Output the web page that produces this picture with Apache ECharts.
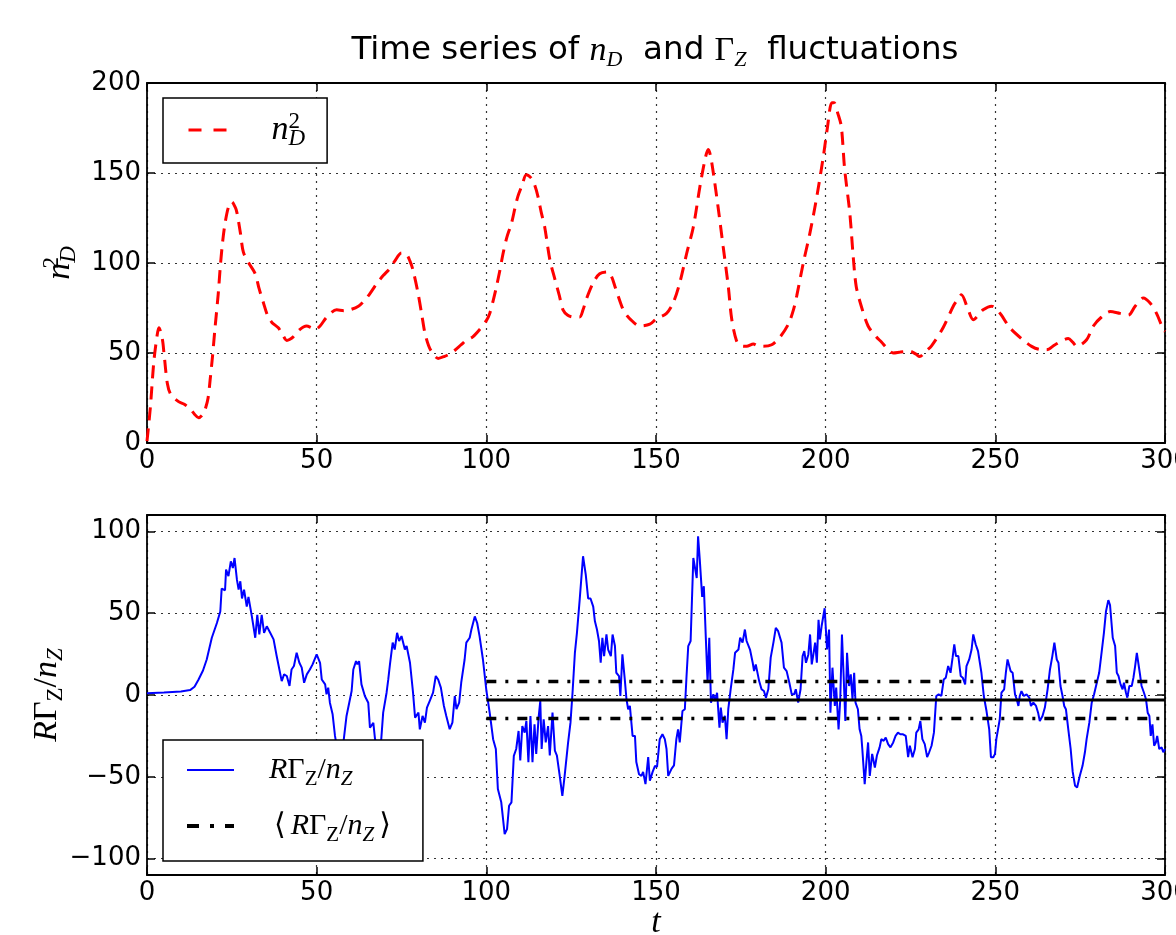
<!DOCTYPE html>
<html><head><meta charset="utf-8">
<script src="https://cdn.jsdelivr.net/npm/echarts@6.0.0/dist/echarts.min.js"></script>
<style>html,body{margin:0;padding:0;background:#fff}#c{width:1176px;height:935px}</style>
</head><body><div id="c"></div>
<script>
// ---- data ----
const xTicks = [0, 50, 100, 150, 200, 250, 300];
const nTicks = [0, 50, 100, 150, 200];
const gTicks = [-100, -50, 0, 50, 100];

// n_D^2 time series [t, value]
const nD2 = [[0,1],[1,20],[2,45],[3,60],[3.5,64],[4.5,58],[5,50],[6,33],[7,27],[9.3,23],[11,21.5],[12.7,19],[14,16],[15.2,14],[16.5,16],[17.2,19],[18,25],[18.6,35],[19.3,48],[20,63],[21,83],[21.6,98],[22.3,112],[23,122],[24,131],[25,134],[26,131],[26.5,128],[27.5,117],[28.4,106],[30,100],[31.9,94],[33,86],[34.3,78],[35.5,71],[36.8,67],[38.7,64],[40,60],[41.2,57],[42,57.5],[43.1,59],[45,63],[47,65],[48.5,64],[49.5,63],[51,65],[53,70],[55.9,74],[58,73.5],[59.8,74],[62.3,76],[64,79],[65.7,83],[67.5,88],[69.6,93],[71.6,97],[73,101],[75,105.5],[76.5,104.6],[77.5,101],[78.4,96],[79.9,83],[81,71],[81.9,61],[83,54],[83.8,51],[85.8,47],[87.5,48],[89.7,50],[92.6,54.6],[94,57],[96,59],[98,63],[100,68],[101,72],[102,79],[103,87],[104,96],[104.9,105],[106,114],[107.4,122],[108.5,131],[109.3,137],[110.5,143],[111.8,149],[113.3,147],[114.3,143],[115.2,137],[116.2,128],[117.2,120],[118.7,102],[120.2,91],[121.5,82],[122.6,74],[124,71],[125.6,70],[127.5,70],[128.5,74],[129.5,80],[131.5,89],[133.4,94],[135.9,95],[137,92],[137.9,87],[139.9,76],[141,72],[142.3,69],[145.2,65],[148.2,66],[150.1,69],[153.1,72],[155.1,78],[157,89],[159,105],[161,120],[162.9,142],[164.5,158],[165.4,163],[166,160],[166.9,150],[168.3,131],[169.8,109],[171.3,87],[172.3,69],[173.7,57],[175,54],[176.7,53.7],[178.7,55],[180,54],[181.6,53.7],[184.1,54.6],[186.6,59],[189,66],[190.5,74],[191.5,82],[193.4,100],[195.4,117],[197.4,137],[199.3,159],[200.5,175],[201.8,189],[202.5,189],[203.6,183],[204.6,176],[205.6,152],[207.1,128],[208.1,104],[209,87],[210.5,76],[212.5,65],[214.9,59],[216.5,56],[217.9,53],[219.9,50],[222,50.5],[224.8,51],[226.5,49.5],[227.7,48],[229.5,51],[231.2,54],[234.6,64],[237.6,76],[239,80],[240,82.4],[242,74],[243.5,68.5],[245,71],[246.4,74],[248.9,76],[250.5,74],[251.8,71],[254.3,64],[257.7,58],[260.7,53.7],[263,52],[265.1,51.8],[267.6,54.6],[271.5,58],[272.8,56],[274,53.7],[276.9,57.4],[278.9,65],[281.3,70],[283.8,73],[286.7,72],[289.2,71],[291.2,76],[293.6,80.6],[295.6,77.8],[297.5,72],[299.5,63],[300,62]];

// R Gamma_Z / n_Z time series [t, value]
const gamma = [[0,1],[5,1.5],[10,2.2],[12.7,3],[14,5],[15.2,9.5],[16.5,15],[17.6,21.7],[19.1,35],[20.6,44],[21.6,51],[22,65],[23,64],[23.3,76.6],[24,72.6],[24.7,81.7],[25.3,77.6],[25.8,83.7],[26.5,70.5],[27,64.4],[27.5,69.5],[28,59],[28.6,64.4],[29.4,54],[29.9,60],[30.9,48],[31.9,35],[32.5,49],[33.1,37],[33.8,49],[34.5,38],[35.3,42],[36.3,38],[37.3,34],[38.2,24],[38.7,25],[39.7,8.5],[40.4,12.6],[41.2,11.6],[42,5.5],[42.6,15.6],[43.3,17.7],[44.1,25.8],[44.9,19.7],[45.6,16.7],[46.3,7.5],[47.1,12.6],[48,15.6],[48.8,18.7],[50,24.8],[51,19.7],[51.5,9.5],[52.5,6.5],[52.9,0.4],[53.4,4.5],[53.9,-4.7],[54.7,-11.8],[55.4,-25],[56.3,-36],[57.2,-33],[58,-27],[58.8,-12.8],[59.6,-4.7],[60.3,2.4],[60.8,15.6],[61.6,20.7],[62,18.7],[62.5,20.7],[63.2,6.5],[64.2,-0.6],[65.2,-4.7],[65.7,-20],[66.7,-17],[67.2,-27],[68.1,-32],[69,-28],[69.6,-10.8],[70.6,1.4],[71.1,9.5],[71.6,18.7],[72.4,32],[73,27.8],[73.7,38],[74.3,33],[75,36],[76,27.8],[76.5,30],[77.5,19.7],[78.4,1.4],[79,-13.8],[80,-10.8],[80.4,-21],[81.2,-12.8],[81.9,-16.9],[82.5,-7.7],[83.3,-3.7],[84.3,1.4],[85.1,11.6],[85.8,9.5],[86.6,4.5],[87.5,-6.7],[88.2,-12.8],[89.2,-20.9],[90,-16.9],[90.7,-0.6],[91.2,-8.7],[92,-4.7],[92.6,7.5],[93.6,21.7],[94.1,32],[95.1,35],[95.6,40],[96.6,48],[97.3,44],[98,36],[99,21.7],[100,3],[101,-11],[102,-27],[102.8,-33],[103.4,-57.5],[104.4,-65.6],[105.4,-85],[106.1,-82],[106.7,-67.7],[107.4,-65.6],[108.1,-37.2],[108.8,-33],[109.5,-22],[110,-40],[110.6,-19],[111.3,-23],[111.8,-15.9],[112.4,-41],[113,-12.8],[113.6,-41],[114.2,-17.9],[114.7,-36],[115.4,-13.8],[115.9,-3.7],[116.3,-33],[116.9,-14.8],[117.5,-29],[118.2,-19],[118.7,-37],[119.5,-10.8],[120.2,-34],[120.8,-37],[121.6,-49],[122.4,-61.6],[123.1,-49],[124.1,-29],[124.8,-16.9],[125.4,1.4],[126.1,25.8],[126.7,38],[127.5,58],[128.5,84.8],[129.3,73.6],[130,59],[130.7,59],[131.5,54],[132,45],[132.6,40],[133.2,33],[133.7,19.7],[134.2,35],[134.7,23.8],[135.4,37],[135.9,27.8],[136.7,23.8],[137.2,37],[137.9,29.9],[138.3,13.6],[139.1,11.6],[139.5,-0.6],[140.1,24.8],[140.8,9.5],[141.3,-2.6],[141.8,-8.7],[142.3,-6.7],[143.1,-25],[143.8,-25],[144.2,-41],[145,-48.4],[145.7,-49.4],[146.2,-47],[146.9,-54.5],[147.7,-38],[148.2,-52.4],[149,-47],[149.7,-43.3],[150.3,-44],[151.1,-27],[151.9,-24],[152.6,-27],[153.1,-33],[153.6,-49.4],[154.6,-45],[155.3,-43],[156,-27],[156.5,-21],[157,-29],[157.8,-9.8],[158.5,-8.7],[159,11.6],[159.5,29.9],[160.2,33],[161,83.7],[161.5,82.7],[162,71.5],[162.4,97],[162.9,82.7],[163.6,60],[164.1,66.5],[164.7,34],[165.2,7.5],[165.7,35],[166.2,-4.7],[166.9,0.4],[167.4,-3.7],[168,1.4],[168.7,-20],[169.1,-7.7],[169.6,-16.9],[170.3,-12.8],[170.8,-27],[171.3,-8.7],[172,3.5],[172.8,15.6],[173.3,25.8],[174.3,27.8],[174.8,35],[175.5,32],[176.2,40],[176.7,33],[177.7,27.8],[178.5,19.7],[178.9,14.6],[179.4,18.7],[180.4,8.5],[181.1,3.5],[181.8,2.4],[182.4,-1.6],[183.1,3.5],[183.8,22.8],[184.6,32],[185.3,41],[186,39],[187,32],[187.7,16.7],[188.5,14.6],[189.3,7.5],[190,0.4],[190.7,0.4],[191.2,3.5],[191.9,-4.7],[192.6,3.5],[193.2,23.8],[193.7,26.8],[194.2,19.7],[194.9,24.8],[195.4,37],[195.9,18.7],[196.3,23.8],[196.9,32],[197.4,19.7],[197.9,46],[198.3,34],[198.8,42],[199.7,53],[200.4,27.8],[201,40],[201.4,-10.8],[202,16.7],[202.7,-6.7],[203.1,4.5],[203.8,-21],[204.3,-2.6],[204.8,37],[205.3,11.6],[205.8,-15.9],[206.3,25.8],[206.9,5.5],[207.4,12.6],[207.9,-2.6],[208.4,13.6],[208.8,-4.7],[209.5,-8.7],[210,-21],[210.5,-25],[210.8,-33],[211.5,-54.5],[212,-41],[212.5,-29],[213,-49.4],[213.7,-36],[214.5,-44.3],[215.1,-37],[215.9,-32],[216.4,-27],[217.1,-28],[217.7,-26],[218.4,-30],[219.1,-32],[219.9,-29],[220.6,-25],[221.3,-23],[222,-24],[222.8,-24],[223.6,-25],[224.3,-38],[224.8,-31],[225.6,-38],[226.3,-33],[226.7,-23],[227.4,-21],[227.9,-15.9],[228.5,-27],[229.2,-30],[229.9,-38],[230.5,-35],[231.2,-31],[231.9,-23],[232.6,-0.6],[233.3,0.4],[234.1,-0.6],[234.8,9.5],[235.4,10.6],[236.1,17.7],[236.8,13.6],[237.4,22.8],[237.9,31],[238.4,23.8],[239.1,23.8],[239.8,11.6],[240.4,10.6],[241.1,6.5],[241.5,17.7],[242.3,21.7],[243,27.8],[243.5,37],[244.2,31],[244.9,26.8],[245.9,13.6],[246.6,-0.6],[247.4,-9.8],[248.2,-21],[248.7,-38],[249.4,-38],[249.9,-36],[250.3,-27],[251.3,-14.8],[251.8,1.4],[252.6,3.5],[253.1,13.6],[253.6,21.7],[254.1,20.7],[254.5,14.6],[255.1,13.6],[255.8,0.4],[256.3,-2.6],[256.8,-6.7],[257.2,-0.6],[257.7,2.4],[258.4,-0.6],[259.2,0.4],[260,-1.6],[260.5,-6.7],[261.2,-4.7],[262,-6.7],[262.6,-10.8],[263.1,-15.9],[263.9,-12.8],[264.6,-7.7],[265.4,3.5],[266.1,15.6],[266.8,23.8],[267.4,32],[268.1,21.7],[268.6,19.7],[269.2,5.5],[269.8,-0.6],[270.3,-6.7],[270.8,-8.7],[271.5,-21],[272.2,-33],[272.8,-47],[273.5,-55.5],[274.1,-56.5],[274.9,-49.4],[275.7,-43.3],[276.4,-35],[276.9,-27],[277.7,-16.9],[278.4,-4.7],[279.1,0.4],[279.9,7.5],[280.6,13.6],[281.3,25.8],[282,38],[282.6,51],[283.3,58],[283.8,55],[284.6,35],[285.3,29.9],[285.8,13.6],[286.3,11.6],[286.9,6.5],[287.5,3.5],[287.9,7.5],[288.5,1.4],[288.9,-1.6],[289.5,5.5],[290.2,5.5],[290.7,10.6],[291.2,17.7],[291.7,25.8],[292.2,24.8],[292.7,11.6],[293.1,5.5],[293.8,1.4],[294.4,-2.6],[294.9,-10.8],[295.4,-12.8],[295.8,-25],[296.3,-17.9],[296.8,-31],[297.3,-29],[297.7,-25],[298.3,-33],[299,-32],[299.5,-35],[300,-33]];

// mean and +/- band of R Gamma_Z / n_Z over t in [100, 300]
const meanT = [100, 300];
const meanV = [-3, -3];
const upperV = [8.3, 8.3];
const lowerV = [-14.4, -14.4];

// ---- styling helpers ----
const SERIF = "'Liberation Serif', 'DejaVu Serif', serif";
const SANS = "'DejaVu Sans', sans-serif";
function mathRich(sz, subSz, lh, tSz) {
  const base = { color: '#000', fontWeight: 'normal' };
  return {
    t:   Object.assign({ fontFamily: SANS, fontSize: tSz || 31, lineHeight: lh }, base),
    mi:  Object.assign({ fontFamily: SERIF, fontStyle: 'italic', fontSize: sz, lineHeight: lh }, base),
    mr:  Object.assign({ fontFamily: SERIF, fontSize: sz, lineHeight: lh }, base),
    br:  Object.assign({ fontFamily: SERIF, fontSize: sz, lineHeight: lh, padding: [0, 5, 0, 5] }, base),
    subI:Object.assign({ fontFamily: SERIF, fontStyle: 'italic', fontSize: subSz, lineHeight: subSz, verticalAlign: 'bottom' }, base),
    subR:Object.assign({ fontFamily: SERIF, fontSize: subSz, lineHeight: subSz, verticalAlign: 'bottom' }, base),
    sup0:Object.assign({ fontFamily: SERIF, fontSize: subSz, lineHeight: subSz, verticalAlign: 'top', width: 0 }, base)
  };
}
const legendText = {
  nD2: '{mi|n}{sup0|2}{subI|D}',
  gamma: '{mi|R}{mr|Γ}{subR|Z}{mr|/}{mi|n}{subI|Z}',
  gammaMean: '{br|⟨}{mi|R}{mr|Γ}{subR|Z}{mr|/}{mi|n}{subI|Z}{br|⟩}'
};
const fmtMinus = v => (v < 0 ? '\u2212' + Math.abs(v) : String(v));
const tickStyle = { show: true, inside: true, length: 8, lineStyle: { color: '#000', width: 1.5 } };
const lineStyleAxis = { show: true, onZero: false, lineStyle: { color: '#000', width: 1.8 } };
const gridDots = { show: true, lineStyle: { color: '#333', width: 1.2, type: [2, 5] } };
const labelStyle = { fontFamily: SANS, fontSize: 26, color: '#000' };
const hiddenDot = { color: 'rgba(0,0,0,0)', borderWidth: 0, opacity: 0 };

function xBottom(gi, withName) {
  const ax = {
    type: 'value', gridIndex: gi, position: 'bottom', min: 0, max: 300, interval: 50,
    axisLine: lineStyleAxis, axisTick: tickStyle, splitLine: gridDots,
    axisLabel: Object.assign({ margin: 5, formatter: fmtMinus, showMaxLabel: true }, labelStyle)
  };
  if (withName) {
    ax.name = 't'; ax.nameLocation = 'middle'; ax.nameGap = 31; ax.nameMoveOverlap = false;
    ax.nameTextStyle = { fontFamily: SERIF, fontStyle: 'italic', fontSize: 34, color: '#000' };
  }
  return ax;
}
function xTop(gi) {
  return { type: 'value', gridIndex: gi, position: 'top', min: 0, max: 300, interval: 50,
    axisLine: lineStyleAxis, axisTick: tickStyle, splitLine: { show: false }, axisLabel: { show: false } };
}

const option = {
  animation: false,
  backgroundColor: '#fff',
  title: {
    text: '{t|Time series of }{mi|n}{subI|D}{t|  and }{mr|Γ}{subI|Z}{t|  fluctuations}',
    left: 655, top: 31, textAlign: 'center', padding: 0,
    textStyle: { fontWeight: 'normal', rich: mathRich(34, 22, 40, 32.5) }
  },
  grid: [
    { left: 147, right: 11, top: 83, height: 360, outerBoundsMode: 'none', containLabel: false },
    { left: 147, right: 11, top: 515, height: 360, outerBoundsMode: 'none', containLabel: false }
  ],
  xAxis: [ xBottom(0, false), xTop(0), xBottom(1, true), xTop(1) ],
  yAxis: [
    { type: 'value', gridIndex: 0, position: 'left', min: 0, max: 200, interval: 50,
      axisLine: lineStyleAxis, axisTick: tickStyle, splitLine: gridDots,
      axisLabel: Object.assign({ margin: 6, formatter: fmtMinus }, labelStyle),
      name: '{mi|n}{sup0|2}{subI|D}', nameLocation: 'middle', nameGap: 67, nameMoveOverlap: false,
      nameTextStyle: { rich: mathRich(34, 23, 40) } },
    { type: 'value', gridIndex: 0, position: 'right', min: 0, max: 200, interval: 50,
      axisLine: lineStyleAxis, axisTick: tickStyle, splitLine: { show: false }, axisLabel: { show: false } },
    { type: 'value', gridIndex: 1, position: 'left', min: -110, max: 110,
      axisLine: lineStyleAxis,
      axisTick: Object.assign({ customValues: gTicks }, tickStyle),
      splitLine: gridDots,
      axisLabel: Object.assign({ margin: 6, formatter: fmtMinus, customValues: gTicks }, labelStyle),
      name: '{mi|R}{mr|Γ}{subR|Z}{mr|/}{mi|n}{subI|Z}', nameLocation: 'middle', nameGap: 80, nameMoveOverlap: false,
      nameTextStyle: { rich: mathRich(34, 23, 40) } },
    { type: 'value', gridIndex: 1, position: 'right', min: -110, max: 110,
      axisLine: lineStyleAxis,
      axisTick: Object.assign({ customValues: gTicks }, tickStyle),
      splitLine: { show: false }, axisLabel: { show: false } }
  ],
  legend: [
    { data: [{ name: 'nD2', itemStyle: hiddenDot, lineStyle: { width: 3, type: [13, 12] } }],
      left: 163, top: 98, orient: 'vertical', selectedMode: false,
      padding: [12, 22, 13, 24], itemWidth: 40, itemHeight: 14,
      borderColor: '#000', borderWidth: 1.5, borderRadius: 0, backgroundColor: '#fff',
      itemStyle: hiddenDot,
      formatter: n => legendText[n],
      textStyle: { padding: [0, 0, 0, 38], rich: mathRich(34, 23, 40) } },
    { data: [
        { name: 'gamma', itemStyle: hiddenDot, lineStyle: { width: 2 } },
        { name: 'gammaMean', itemStyle: hiddenDot, lineStyle: { width: 4, type: [12, 11, 4, 11] } }
      ],
      left: 163, top: 740, orient: 'vertical', selectedMode: false,
      padding: [15, 27, 15, 22], itemWidth: 47, itemHeight: 14, itemGap: 21,
      borderColor: '#000', borderWidth: 1.5, borderRadius: 0, backgroundColor: '#fff',
      itemStyle: hiddenDot,
      formatter: n => legendText[n],
      textStyle: { padding: [0, 0, 0, 30], rich: mathRich(30, 21, 40) } }
  ],
  series: [
    { name: 'nD2', type: 'line', xAxisIndex: 0, yAxisIndex: 0, data: nD2,
      symbol: 'none', smooth: 0.3, itemStyle: { color: '#ff0000' },
      lineStyle: { color: '#ff0000', width: 3, type: [13, 8] } },
    { name: 'gamma', type: 'line', xAxisIndex: 2, yAxisIndex: 2, data: gamma,
      symbol: 'none', itemStyle: { color: '#0000ff' },
      lineStyle: { color: '#0000ff', width: 2 } },
    { name: 'mean', type: 'line', xAxisIndex: 2, yAxisIndex: 2,
      data: meanT.map((t, i) => [t, meanV[i]]), symbol: 'none',
      itemStyle: { color: '#000' }, lineStyle: { color: '#000', width: 3 } },
    { name: 'gammaMean', type: 'line', xAxisIndex: 2, yAxisIndex: 2,
      data: meanT.map((t, i) => [t, upperV[i]]), symbol: 'none',
      itemStyle: { color: '#000' }, lineStyle: { color: '#000', width: 3.5, type: [10, 9, 3, 9] } },
    { name: 'gammaMean', type: 'line', xAxisIndex: 2, yAxisIndex: 2,
      data: meanT.map((t, i) => [t, lowerV[i]]), symbol: 'none',
      itemStyle: { color: '#000' }, lineStyle: { color: '#000', width: 3.5, type: [10, 9, 3, 9] } }
  ]
};
const chart = echarts.init(document.getElementById('c'), null, { renderer: 'canvas' });
chart.setOption(option);
</script>
</body></html>
